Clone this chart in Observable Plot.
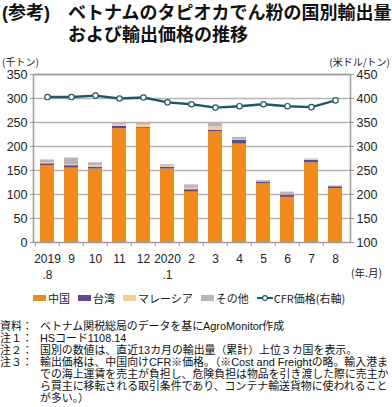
<!DOCTYPE html>
<html><head><meta charset="utf-8">
<script src="https://cdn.jsdelivr.net/npm/d3@7"></script>
<script src="https://cdn.jsdelivr.net/npm/@observablehq/plot@0.6"></script>
<style>
body{margin:0;background:#fff;}
#root{position:relative;width:392px;height:407px;overflow:hidden;font-family:"Noto Sans CJK JP",sans-serif;color:#111;}
.abs{position:absolute;white-space:nowrap;}
.title{font-family:"Liberation Sans","Noto Sans CJK JP",sans-serif;font-weight:bold;font-size:18px;line-height:22px;}
.unit{font-size:10px;line-height:12px;color:#222;}
#chart{position:absolute;left:0;top:56px;}
#legend{position:absolute;left:33px;top:291px;display:flex;align-items:center;font-size:11px;line-height:14px;color:#222;}
#legend .it{display:flex;align-items:center;margin-right:8px;}
#legend .sw{display:inline-block;width:13px;height:6px;margin-right:2px;}
#notes{position:absolute;left:0;top:320px;width:392px;font-family:"Liberation Sans","Noto Sans CJK JP",sans-serif;font-size:10.9px;line-height:12px;color:#111;}
#notes .row{display:flex;}
#notes .lab{width:40px;flex:none;white-space:nowrap;}
#notes .txt{flex:1;white-space:nowrap;}
</style></head><body>
<div id="root">
  <div class="abs title" style="left:2px;top:2px;">(参考)</div>
  <div class="abs title" style="left:68px;top:2px;">ベトナムのタピオカでん粉の国別輸出量</div>
  <div class="abs title" style="left:68px;top:24px;">および輸出価格の推移</div>
  <div class="abs unit" style="left:2px;top:56px;">(千トン)</div>
  <div class="abs unit" style="right:2px;top:56px;">(米ドル/トン)</div>
  <div id="chart"></div>
  <div class="abs unit" style="left:351px;top:267px;font-size:10.5px;">(年.月)</div>
  <div id="legend"></div>
  <div id="notes"></div>
</div>
<script>
const months = ["2019\n.8","9","10","11","12","2020\n.1","2","3","4","5","6","7","8"];
const seriesNames = ["中国","台湾","マレーシア","その他"];
const china    = [160,155,153,237,238,153,105,231,205,122, 94,166,112];
const taiwan   = [  4,  5,  4,  5,  2,  4,  5,  3,  8,  4,  5,  5,  4];
const malaysia = [  2,  2,  3,  3,  5,  2,  3,  7,  1,  1,  1,  1,  0];
const other    = [  6, 14,  6,  5,  5,  3,  7,  9,  5,  2,  5,  2,  2];
const cfrPrice = [403,403,406,400,402,392,388,381,384,388,384,382,396];
const lineName = "CFR価格(右軸)";
const leftTicks = [0,50,100,150,200,250,300,350];
const rightOffset = 100; // right axis = left axis + 100 (米ドル/トン)

const seriesColors = ["#F08A1C","#5E4A8C","#F7CB97","#B6B6BA"];
const lineColor = "#1D5967";

const seriesValues = [china, taiwan, malaysia, other];
const rows = [];
seriesNames.forEach((s, j) => months.forEach((m, i) => rows.push({month: m, series: s, value: seriesValues[j][i]})));
const priceRows = months.map((m, i) => ({month: m, price: cfrPrice[i]}));

const W = 392, H = 232, ML = 33, MR = 42, MT = 18, MB = 46;
const halfStep = (W - ML - MR) / months.length / 2;

const chart = Plot.plot({
  width: W, height: H,
  marginLeft: ML, marginRight: MR, marginTop: MT, marginBottom: MB,
  style: {fontFamily: '"Liberation Sans", Arial, sans-serif', fontSize: "12px", color: "#222", background: "transparent", overflow: "visible"},
  x: {domain: months, paddingInner: 0.4, paddingOuter: 0.2, label: null},
  y: {domain: [0, 350], label: null},
  color: {domain: seriesNames, range: seriesColors},
  marks: [
    Plot.gridY(leftTicks.filter(d => d > 0), {stroke: "#b4b4b4", strokeOpacity: 1, strokeWidth: 1.4}),
    Plot.barY(rows, {x: "month", y: "value", fill: "series", order: seriesNames}),
    Plot.frame({stroke: "#9a9a9a", strokeWidth: 1.5}),
    Plot.axisY(leftTicks, {anchor: "left", tickSize: 3, tickPadding: 3, stroke: "#9a9a9a", fontSize: 12.5, label: null}),
    Plot.axisY(leftTicks, {anchor: "right", tickSize: 3, tickPadding: 3, stroke: "#9a9a9a", fontSize: 12.5, label: null, tickFormat: d => d + rightOffset}),
    Plot.axisX({tickSize: 4, fill: "none", stroke: "#9a9a9a", dx: -halfStep, label: null}),
    Plot.axisX({tickSize: 0, tickPadding: 9, fontSize: 12, lineHeight: 1.35, label: null, tickFormat: d => d}),
    Plot.line(priceRows, {x: "month", y: d => d.price - rightOffset, stroke: lineColor, strokeWidth: 2.4}),
    Plot.dot(priceRows, {x: "month", y: d => d.price - rightOffset, r: 2.7, fill: "white", stroke: lineColor, strokeWidth: 1.2})
  ]
});
document.getElementById("chart").appendChild(chart);

// legend
const legend = document.getElementById("legend");
seriesNames.forEach((s, j) => {
  const it = document.createElement("div"); it.className = "it";
  const sw = document.createElement("span"); sw.className = "sw"; sw.style.background = seriesColors[j];
  it.appendChild(sw); it.appendChild(document.createTextNode(s));
  legend.appendChild(it);
});
{
  const it = document.createElement("div"); it.className = "it";
  it.innerHTML = `<svg width="16" height="8" style="margin-right:1px"><line x1="0" y1="4" x2="16" y2="4" stroke="${lineColor}" stroke-width="2"/><circle cx="8" cy="4" r="2.4" fill="white" stroke="${lineColor}" stroke-width="1.1"/></svg>`;
  it.appendChild(document.createTextNode(lineName));
  legend.appendChild(it);
}

// notes
const noteLabels = ["資料：","注１：","注２：","注３："];
const noteTexts = [
  ["ベトナム関税総局のデータを基にAgroMonitor作成"],
  ["HSコード1108.14"],
  ["国別の数値は、直近13カ月の輸出量（累計）上位３カ国を表示。"],
  ["輸出価格は、中国向けCFR※価格。（※Cost and Freightの略。輸入港ま",
   "での海上運賃を売主が負担し、危険負担は物品を引き渡した際に売主か",
   "ら買主に移転される取引条件であり、コンテナ輸送貨物に使われること",
   "が多い。）"]
];
const notes = document.getElementById("notes");
noteLabels.forEach((l, i) => {
  const row = document.createElement("div"); row.className = "row";
  const lab = document.createElement("div"); lab.className = "lab"; lab.textContent = l;
  const txt = document.createElement("div"); txt.className = "txt";
  noteTexts[i].forEach((t, k) => { if (k) txt.appendChild(document.createElement("br")); txt.appendChild(document.createTextNode(t)); });
  row.appendChild(lab); row.appendChild(txt); notes.appendChild(row);
});
</script>
</body></html>
